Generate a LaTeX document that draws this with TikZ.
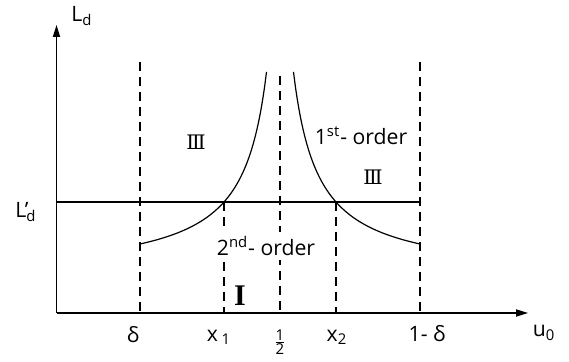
\documentclass[tikz,border=0pt]{standalone}
\usepackage{fontspec}
\setmainfont{Open Sans}
\newfontfamily\romfont{DejaVu Serif}
\newfontfamily\ifont{Liberation Serif}
\usetikzlibrary{arrows.meta}
\begin{document}
\begin{tikzpicture}[x=0.5pt,y=-0.5pt,
  axis/.style={line width=0.65pt,-{Triangle[length=6pt,width=3.6pt]}},
  solid line/.style={line width=0.6pt},
  guide/.style={line width=0.6pt,dash pattern=on 4.5pt off 3pt},
  lbl/.style={inner sep=0pt,font=\fontsize{10.6}{12}\selectfont},
  rom/.style={inner sep=0pt,font=\romfont\fontsize{10}{10}\selectfont}]
\useasboundingbox (0,0) rectangle (569,362);
% axes
\coordinate (O) at (56.5,313);
\coordinate (ytip) at (56.5,25);
\coordinate (xtip) at (528,313);
\draw[axis] (O) -- (ytip);
\draw[axis] (O) -- (xtip);
% dashed guides
\coordinate (dT) at (140,62);   \coordinate (dB) at (140,313);
\coordinate (eT) at (420,62);   \coordinate (eB) at (420,313);
\coordinate (hT) at (280,76);   \coordinate (hB) at (280,313);
\coordinate (aT) at (224,202);  \coordinate (aB) at (224,313);
\coordinate (bT) at (336,202);  \coordinate (bB) at (336,313);
\draw[guide] (dT) -- (dB);
\draw[guide] (eT) -- (eB);
\draw[guide] (hT) -- (hB);
\draw[guide] (aT) -- (aB);
\draw[guide] (bT) -- (bB);
% horizontal L'_d line
\coordinate (hl) at (56.5,202);
\coordinate (hr) at (420,202);
\draw[solid line] (hl) -- (hr);
% curves
\draw[solid line] plot[domain=140:266.5,samples=80,smooth] (\x,{277.6-5080/(291.2-\x)});
\draw[solid line] plot[domain=140:266.5,samples=80,smooth] ({560-\x},{277.6-5080/(291.2-\x)});
% labels
\node[lbl] (Ld) at (82,16) {L\textsubscript{d}};
\node[lbl] (Lpd) at (26,212) {L’\kern-1pt\textsubscript{d}};
\node[lbl] (first) at (361,136) {1\textsuperscript{st}- order};
\node[lbl,fill=white,inner xsep=1pt,inner ysep=2pt] (second) at (266,246) {2\textsuperscript{nd}- order};
\node[rom] (r3a) at (196,142) {Ⅲ};
\node[rom] (r3b) at (373,177) {Ⅲ};
\node[inner sep=0pt,font=\ifont\bfseries\fontsize{15}{15}\selectfont] (r1) at (240,296) {I};
\node[lbl] (delta) at (133,335) {δ};
\node[lbl] (x1) at (219,337) {x\,\textsubscript{1}};
\node[inner sep=0pt,font=\fontsize{7.5}{7.5}\selectfont] (half) at (280,342) {$\frac{\mbox{1}}{\mbox{2}}$};
\node[lbl] (x2) at (337,337) {x\textsubscript{2}};
\node[lbl] (omd) at (427,334) {1- δ};
\node[lbl] (u0) at (544,333) {u\textsubscript{0}};
\end{tikzpicture}
\end{document}
